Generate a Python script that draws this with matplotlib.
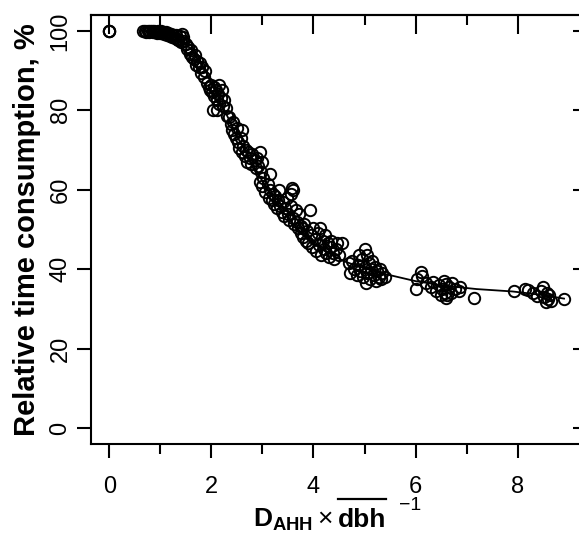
import numpy as np
import matplotlib
matplotlib.use('Agg')
import matplotlib.pyplot as plt
from matplotlib.lines import Line2D

plt.rcParams['font.family'] = ['Liberation Sans', 'DejaVu Sans']
plt.rcParams['mathtext.fontset'] = 'custom'
plt.rcParams['mathtext.rm'] = 'Liberation Sans'
plt.rcParams['mathtext.bf'] = 'Liberation Sans:bold'
plt.rcParams['mathtext.it'] = 'Liberation Sans:italic'

W, H = 579, 533

# 观测点 (D_AHH / mean dbh, 相对时间消耗 %)
x_obs = [0.0, 0.0, 0.0,
         0.65, 0.70, 0.72, 0.75, 0.78, 0.80, 0.83, 0.85, 0.88, 0.90, 0.93, 0.95,
         0.98, 1.00, 1.02, 1.05, 1.08, 1.10, 1.12, 1.15, 1.18, 1.20, 1.22, 1.25,
         1.28, 1.30, 1.33, 1.35, 1.38, 1.40, 1.42, 1.45,
         1.45, 1.50, 1.52, 1.55, 1.58, 1.60, 1.62, 1.65, 1.68, 1.70, 1.72, 1.75,
         1.78, 1.80, 1.82, 1.85, 1.88,
         1.92, 1.95, 1.98, 2.00, 2.02, 2.05, 2.05, 2.08, 2.10, 2.12, 2.15, 2.15,
         2.18, 2.20, 2.22, 2.25, 2.03, 2.10, 2.28,
         2.30, 2.34, 2.38, 2.40, 2.42, 2.45, 2.48, 2.50, 2.52, 2.55, 2.58, 2.60,
         2.60, 2.62, 2.65, 2.68, 2.70, 2.72, 2.75, 2.78, 2.80, 2.85, 2.88, 2.90,
         2.92, 2.95, 2.98, 3.00,
         2.95, 3.00, 3.02, 3.05, 3.10, 3.12, 3.15, 3.15, 3.18, 3.20, 3.22, 3.25,
         3.28, 3.30, 3.32, 3.35, 3.38, 3.40, 3.42, 3.45, 3.48, 3.50, 3.52, 3.55,
         3.58, 3.60, 3.62, 3.65, 3.68, 3.70, 3.72, 3.75, 3.55, 3.60,
         3.75, 3.78, 3.80, 3.82, 3.85, 3.88, 3.90, 3.93, 3.95, 3.98, 4.00, 4.02,
         4.05, 4.08, 4.10, 4.12, 4.15, 4.18, 4.20, 4.22, 4.25, 4.28, 4.30, 4.32,
         4.35, 4.38, 4.40, 4.45, 4.46, 4.50, 4.56,
         4.70, 4.72, 4.75, 4.80, 4.85, 4.88, 4.90, 4.92, 4.95, 4.98, 5.00, 5.00,
         5.02, 5.05, 5.05, 5.08, 5.10, 5.12, 5.15, 5.18, 5.20, 5.22, 5.25, 5.28,
         5.30, 5.32, 5.35, 5.40,
         6.00, 6.03, 6.10, 6.12, 6.20, 6.30, 6.35, 6.40, 6.45, 6.50, 6.52, 6.55,
         6.58, 6.60, 6.60, 6.62, 6.65, 6.70, 6.72, 6.78, 6.85, 6.88,
         7.15,
         7.93, 8.15, 8.20, 8.30, 8.38, 8.45, 8.50, 8.52, 8.55, 8.58, 8.60, 8.62,
         8.65, 8.91]
y_obs = [100, 100, 100,
         100, 100, 99.8, 100, 99.7, 100, 99.9, 99.6, 100, 99.8, 99.5, 100,
         99.7, 99.4, 99.9, 99.6, 99.2, 99.8, 99.0, 99.5, 98.8, 99.3, 98.5, 99.0,
         98.2, 98.9, 98.0, 97.6, 98.6, 97.2, 99.2, 98.4,
         97.5, 96.8, 95.5, 96.0, 94.2, 95.2, 93.5, 92.8, 94.0, 91.5, 92.5, 90.8,
         92.0, 89.5, 91.0, 88.5, 89.8,
         87.0, 86.0, 85.0, 86.5, 84.5, 83.5, 86.0, 85.0, 82.5, 84.0, 86.5, 81.5,
         83.0, 85.0, 81.0, 82.5, 80.0, 80.0, 80.5,
         78.5, 78.3, 76.5, 75.0, 77.0, 74.0, 73.0, 75.5, 72.0, 70.5, 73.0, 75.0,
         69.5, 71.0, 68.5, 70.0, 67.0, 69.5, 68.0, 66.5, 69.0, 67.5, 65.5, 68.0,
         66.0, 69.5, 64.5, 67.0,
         62.0, 61.0, 63.0, 59.5, 61.5, 58.0, 64.0, 60.0, 57.5, 59.0, 56.5, 58.5,
         55.5, 57.5, 60.0, 56.0, 54.5, 57.0, 53.5, 55.5, 58.0, 54.0, 52.5, 56.0,
         60.5, 53.0, 51.5, 55.0, 52.0, 50.5, 54.0, 51.0, 59.0, 60.0,
         49.0, 50.5, 48.0, 51.5, 47.0, 49.5, 46.5, 54.8, 48.5, 45.5, 50.5, 47.5,
         44.5, 49.0, 46.0, 50.5, 43.5, 47.0, 45.0, 48.5, 44.0, 46.5, 43.0, 45.5,
         47.0, 44.0, 42.5, 45.0, 46.7, 43.5, 46.7,
         41.5, 39.0, 42.0, 40.0, 38.5, 41.0, 43.5, 39.5, 42.5, 38.0, 45.2, 40.5,
         36.5, 43.5, 39.0, 41.5, 37.5, 40.0, 42.0, 38.5, 40.5, 37.0, 39.5, 38.0,
         40.0, 37.5, 39.0, 38.0,
         35.1, 37.5, 39.4, 38.2, 36.5, 35.5, 36.8, 34.5, 36.0, 33.5, 35.0, 37.0,
         34.0, 36.2, 32.8, 33.5, 35.5, 34.0, 36.5, 35.0, 34.5, 35.6,
         32.8,
         34.6, 35.1, 34.8, 34.0, 33.2, 34.5, 35.6, 33.0, 31.8, 34.0, 32.5, 33.5,
         32.0, 32.6]

# 拟合曲线
x_fit = [0.65, 1.0, 1.3, 1.6, 1.9, 2.2, 2.5, 2.8, 3.1, 3.4, 3.7, 4.0, 4.3,
         4.6, 5.0, 5.4, 6.0, 6.6, 7.2, 7.9, 8.5, 8.91]
y_fit = [100, 99.6, 98.5, 95.5, 89.5, 81.5, 73.5, 66.5, 60.0, 54.5, 50.0,
         46.5, 44.0, 42.0, 40.2, 38.8, 37.0, 35.8, 35.0, 34.4, 33.5, 32.6]

x_major = [0, 2, 4, 6, 8]
x_minor = [1, 3, 5, 7]
y_major = [0, 20, 40, 60, 80, 100]

fig = plt.figure(figsize=(W / 100, H / 100), dpi=100)
ax = fig.add_axes([91 / W, (H - 444) / H, (587 - 91) / W, (444 - 15) / H])

ax.plot(x_fit, y_fit, color='black', lw=1.3, zorder=2)
ax.plot(x_obs, y_obs, 'o', mfc='none', mec='black', ms=8.2, mew=1.4, zorder=3)

ax.set_xlim(-0.36, 9.36)
ax.set_ylim(-4, 104)

for s in ax.spines.values():
    s.set_linewidth(1.5)

ax.set_xticks(x_major)
ax.set_xticks(x_minor, minor=True)
ax.set_yticks(y_major)
ax.tick_params(axis='both', which='major', direction='out', length=10, width=1.5,
               labelsize=17)
ax.tick_params(axis='x', which='major', pad=13)
ax.tick_params(axis='y', which='major', pad=4)
ax.tick_params(axis='x', which='minor', direction='out', length=7, width=1.5)
for lab in ax.get_yticklabels():
    lab.set_rotation(90)
    lab.set_va('center')

# 上方与右侧的内向刻度
top = ax.secondary_xaxis('top')
top.set_xticks(x_major)
top.set_xticks(x_minor, minor=True)
top.tick_params(which='major', direction='in', length=14, width=1.5, labeltop=False)
top.tick_params(which='minor', direction='in', length=7, width=1.5)
top.spines['top'].set_linewidth(1.5)
right = ax.secondary_yaxis('right')
right.set_yticks(y_major)
right.tick_params(direction='in', length=10, width=1.5, labelright=False)

ax.set_ylabel('Relative time consumption, %', fontsize=21, fontweight='bold',
              labelpad=6)

# x 轴标题: D_AHH x dbh(上划线)^-1
base = (H - 527) / H
fig.text(333 / W, base, r'$\mathbf{D}_{\mathbf{AHH}}\times$', ha='right',
         va='baseline', fontsize=19)
fig.text(338 / W, base, 'dbh', ha='left', va='baseline', fontsize=19,
         fontweight='bold')
fig.add_artist(Line2D([338 / W, 386 / W], [(H - 499) / H, (H - 499) / H],
                      color='black', lw=1.6, transform=fig.transFigure))
fig.text(399 / W, (H - 506) / H, '\u22121', ha='left', va='center', fontsize=14)

fig.savefig('out.png', dpi=100)
